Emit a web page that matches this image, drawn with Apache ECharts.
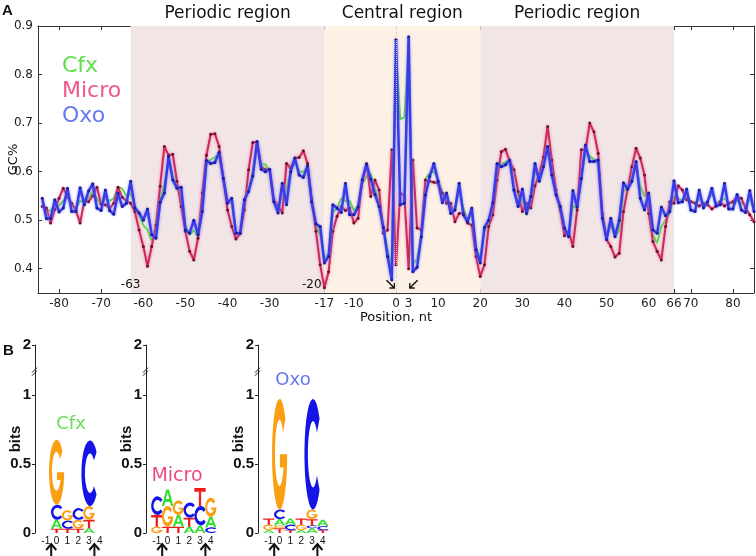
<!DOCTYPE html>
<html><head><meta charset="utf-8">
<script src="https://cdn.jsdelivr.net/npm/echarts@6/dist/echarts.min.js"></script>
<style>html,body{margin:0;padding:0;background:#fff}#c{width:756px;height:556px}</style>
</head><body><div id="c"></div>
<script>
// ---------------- Panel A data ----------------
const positionStart = -84; // positions -84 .. 85, one value per nucleotide
const cfx = [
 0.535,0.52,0.52,0.53,0.53,0.54,0.55,0.53,0.525,0.54,
 0.535,0.545,0.56,0.545,0.53,0.545,0.54,0.545,0.568,0.565,
 0.55,0.555,0.53,0.51,0.49,0.48,0.457,0.47,0.54,0.575,
 0.62,0.59,0.57,0.56,0.49,0.47,0.48,0.465,0.52,0.615,
 0.625,0.63,0.635,0.59,0.54,0.535,0.475,0.47,0.54,0.565,
 0.60,0.655,0.615,0.615,0.60,0.54,0.525,0.555,0.56,0.605,
 0.62,0.60,0.60,0.61,0.53,0.49,0.47,0.42,0.43,0.515,
 0.525,0.545,0.54,0.54,0.52,0.53,0.575,0.59,0.595,0.565,
 0.54,0.49,0.44,0.40,0.85,0.708,0.712,0.86,0.41,0.42,
 0.47,0.585,0.597,0.60,0.585,0.555,0.555,0.525,0.525,0.56,
 0.525,0.50,0.515,0.445,0.42,0.475,0.50,0.53,0.60,0.615,
 0.62,0.625,0.57,0.535,0.545,0.51,0.54,0.60,0.59,0.615,
 0.655,0.60,0.555,0.52,0.48,0.465,0.53,0.525,0.59,0.64,
 0.632,0.625,0.615,0.51,0.465,0.49,0.465,0.48,0.56,0.565,
 0.59,0.615,0.57,0.55,0.55,0.47,0.453,0.487,0.50,0.515,
 0.55,0.545,0.54,0.55,0.54,0.535,0.545,0.53,0.54,0.555,
 0.535,0.54,0.545,0.535,0.535,0.54,0.535,0.53,0.545,0.52
];
const micro = [
 0.528,0.525,0.494,0.522,0.545,0.566,0.548,0.535,0.52,0.494,
 0.54,0.538,0.55,0.568,0.533,0.532,0.524,0.535,0.568,0.547,
 0.54,0.535,0.518,0.48,0.446,0.405,0.446,0.49,0.57,0.652,
 0.634,0.636,0.58,0.528,0.477,0.436,0.418,0.463,0.556,0.634,
 0.677,0.678,0.652,0.586,0.521,0.487,0.461,0.473,0.521,0.604,
 0.66,0.661,0.61,0.604,0.604,0.542,0.53,0.515,0.617,0.607,
 0.628,0.629,0.643,0.617,0.542,0.477,0.408,0.361,0.394,0.477,
 0.508,0.528,0.52,0.525,0.494,0.504,0.583,0.617,0.549,0.583,
 0.562,0.473,0.48,0.645,0.408,0.556,0.55,0.40,0.624,0.484,
 0.48,0.583,0.58,0.578,0.576,0.556,0.535,0.535,0.497,0.514,
 0.516,0.494,0.49,0.425,0.384,0.408,0.487,0.511,0.583,0.641,
 0.646,0.621,0.604,0.559,0.518,0.535,0.525,0.571,0.595,0.63,
 0.693,0.624,0.562,0.521,0.468,0.477,0.446,0.521,0.645,0.645,
 0.70,0.682,0.638,0.514,0.46,0.446,0.424,0.432,0.518,0.564,
 0.61,0.648,0.628,0.593,0.514,0.456,0.436,0.418,0.487,0.538,
 0.535,0.571,0.562,0.542,0.538,0.535,0.529,0.535,0.532,0.523,
 0.529,0.538,0.529,0.535,0.538,0.549,0.545,0.525,0.511,0.497
];
const oxo = [
 0.545,0.503,0.504,0.542,0.517,0.525,0.566,0.518,0.518,0.567,
 0.532,0.56,0.575,0.525,0.52,0.562,0.52,0.512,0.556,0.528,
 0.535,0.58,0.525,0.515,0.50,0.523,0.47,0.463,0.537,0.556,
 0.631,0.583,0.566,0.568,0.48,0.473,0.50,0.47,0.518,0.623,
 0.617,0.619,0.64,0.586,0.535,0.545,0.473,0.473,0.542,0.559,
 0.591,0.662,0.605,0.60,0.605,0.538,0.515,0.576,0.532,0.60,
 0.628,0.593,0.588,0.612,0.538,0.492,0.487,0.412,0.425,0.532,
 0.525,0.516,0.576,0.511,0.511,0.527,0.583,0.615,0.585,0.553,
 0.528,0.485,0.425,0.377,0.872,0.532,0.535,0.878,0.394,0.403,
 0.466,0.552,0.59,0.617,0.58,0.536,0.556,0.514,0.521,0.576,
 0.511,0.497,0.525,0.439,0.412,0.485,0.50,0.536,0.617,0.61,
 0.614,0.624,0.562,0.528,0.564,0.514,0.549,0.617,0.58,0.61,
 0.652,0.593,0.552,0.528,0.484,0.466,0.561,0.527,0.586,0.655,
 0.621,0.621,0.624,0.504,0.46,0.504,0.466,0.50,0.577,0.564,
 0.58,0.621,0.545,0.521,0.556,0.48,0.473,0.527,0.509,0.518,
 0.581,0.536,0.538,0.564,0.521,0.518,0.562,0.525,0.538,0.566,
 0.529,0.532,0.576,0.523,0.523,0.553,0.521,0.516,0.561,0.518
];
const xTicks = [-80,-70,-60,-50,-40,-30,-17,-10,0,3,10,20,30,40,50,60,66,70,80];
const yTicks = [0.4,0.5,0.6,0.7,0.8,0.9];
const regionNames = ['Periodic region','Central region','Periodic region'];
const regionFrom = [-63,-17,20];
const regionTo = [-17,20,66];
const boundaryMarks = [-63,-20];
const boundaryText = ['-63','-20'];
const dyadArrows = [0,3];

// ---------------- Panel B data (sequence logos) ----------------
const logoCols = [-1,0,1,2,3,4];
const logoTicks = [-1,0,1,2,3,4];
const bitsTicks = [0,0.5,1,1.36];
const bitsTickText = ['0','0.5','1','2'];
const bitsBreak = 1.167;
const logoArrows = [-0.5,3.5];
const cfxLetters = [[],['T','A','C','G'],['T','C','G'],['T','G','C'],['A','T','G','C'],[]];
const cfxBits    = [[],[0.03,0.065,0.11,0.47],[0.03,0.06,0.075],[0.03,0.065,0.085],[0.035,0.06,0.1,0.475],[]];
const microLetters = [['G','T','C'],['T','G','A'],['T','A','G'],['A','T','C'],['A','C','T'],['C','A','G']];
const microBits    = [[0.045,0.085,0.135],[0.045,0.15,0.12],[0.045,0.085,0.105],[0.045,0.065,0.11],[0.055,0.14,0.13],[0.04,0.075,0.14]];
const oxoLetters = [['A','G','T'],['T','G','A','C','G'],['T','C','A'],['A','G','T'],['A','C','T','G','C'],['T','C','A']];
const oxoBits    = [[0.02,0.04,0.045],[0.035,0.02,0.045,0.07,0.8],[0.02,0.04,0.045],[0.02,0.04,0.045],[0.035,0.02,0.045,0.07,0.8],[0.02,0.03,0.045]];

// ---------------- styles ----------------
const FONT = 'DejaVu Sans';
const BFONT = 'Liberation Sans';
const LETTERS = ['A','C','G','T'];
const LETTER_COLORS = ['#2ee02e','#1414e6','#fa9e12','#f01c1c'];
const GLYPHS = [
  'M0,100 L38,0 L62,0 L100,100 L80,100 L71,75 L29,75 L20,100 Z M35,58 L65,58 L50,18 Z',
  'M88.3,17.9 A50,50 0 1 0 88.3,82.1 L73,69.3 A30,30 0 1 1 73,30.7 Z',
  'M88.3,17.9 A50,50 0 1 0 100,50 L52,50 L52,62 L76,62 A30,30 0 1 1 73,30.7 Z',
  'M0,0 L100,0 L100,20 L60,20 L60,100 L40,100 L40,20 L0,20 Z'
];

function pairs(vals){ return vals.map((v,i)=>[positionStart+i, v]); }
function buildLogo(letters, bits){
  const out=[];
  letters.forEach((col,i)=>{ let base=0; col.forEach((L,j)=>{ const h=bits[i][j]; out.push([logoCols[i], base, base+h, LETTERS.indexOf(L)]); base+=h; }); });
  return out;
}

const chart = echarts.init(document.getElementById('c'), null, {renderer:'canvas'});

const logoGrids = [{left:35},{left:146},{left:258}];
const logoSets = [[cfxLetters,cfxBits],[microLetters,microBits],[oxoLetters,oxoBits]];

const grids = [{left:38, right:2, top:26, bottom:263, containLabel:false, outerBoundsMode:'none'}];
logoGrids.forEach(g=>grids.push({left:g.left, width:75.6, top:345, height:188, containLabel:false, outerBoundsMode:'none'}));

const xAxes = [
  {type:'value', gridIndex:0, min:-85, max:85, position:'bottom',
   axisLine:{show:true, onZero:false, lineStyle:{color:'#333'}}, splitLine:{show:false},
   axisTick:{show:true, inside:true, length:4, customValues:xTicks, lineStyle:{color:'#333'}},
   axisLabel:{customValues:xTicks, fontFamily:FONT, fontSize:12, color:'#222', margin:5},
   name:'Position, nt', nameLocation:'middle', nameGap:18, nameMoveOverlap:false, nameTextStyle:{fontFamily:FONT, fontSize:13, color:'#111'}},
  {type:'value', gridIndex:0, min:-85, max:85, position:'top',
   axisLine:{show:true, onZero:false, lineStyle:{color:'#333'}}, splitLine:{show:false},
   axisTick:{show:true, inside:true, length:4, customValues:xTicks, lineStyle:{color:'#333'}},
   axisLabel:{show:false}}
];
const yAxes = [
  {type:'value', gridIndex:0, min:0.35, max:0.9, position:'left',
   axisLine:{show:true, onZero:false, lineStyle:{color:'#333'}}, splitLine:{show:false},
   axisTick:{show:true, inside:true, length:4, customValues:yTicks, lineStyle:{color:'#333'}},
   axisLabel:{customValues:yTicks, formatter:v=>v.toFixed(1), fontFamily:FONT, fontSize:12, color:'#222', margin:5},
   name:'GC%', nameLocation:'middle', nameGap:18, nameMoveOverlap:false, nameTextStyle:{fontFamily:FONT, fontSize:13, color:'#111'}},
  {type:'value', gridIndex:0, min:0.35, max:0.9, position:'right',
   axisLine:{show:true, onZero:false, lineStyle:{color:'#333'}}, splitLine:{show:false},
   axisTick:{show:true, inside:true, length:4, customValues:yTicks, lineStyle:{color:'#333'}},
   axisLabel:{show:false}}
];
logoGrids.forEach((g,k)=>{
  xAxes.push({type:'value', gridIndex:k+1, min:-2, max:5, axisLine:{show:false}, axisTick:{show:false}, splitLine:{show:false},
    axisLabel:{customValues:logoTicks, fontFamily:BFONT, fontSize:10, color:'#111', margin:3}});
  yAxes.push({type:'value', gridIndex:k+1, min:0, max:1.36, splitLine:{show:false},
    axisLine:{show:true, onZero:false, lineStyle:{color:'#222', width:1}},
    axisTick:{show:true, inside:false, length:3, customValues:bitsTicks, lineStyle:{color:'#222'}},
    axisLabel:{customValues:bitsTicks, formatter:v=>bitsTickText[bitsTicks.indexOf(v)], fontFamily:BFONT, fontWeight:'bold', fontSize:15, color:'#111', margin:4},
    name:'bits', nameLocation:'middle', nameGap:12, nameMoveOverlap:false, nameTextStyle:{fontFamily:BFONT, fontWeight:'bold', fontSize:15, color:'#111'}});
});

const arrowDR = 'path://M0,1.2 L1.2,0 L9,7.8 L9,4 L10.5,4 L10.5,10.5 L4,10.5 L4,9 L7.8,9 Z';
const arrowDL = 'path://M10.5,1.2 L9.3,0 L1.5,7.8 L1.5,4 L0,4 L0,10.5 L6.5,10.5 L6.5,9 L2.7,9 Z';

const series = [
  {type:'line', name:'regions', xAxisIndex:0, yAxisIndex:0, data:[], z:1, silent:true,
   markArea:{silent:true,
     label:{show:true, position:'top', distance:4, fontFamily:FONT, fontSize:17, color:'#111'},
     data: regionNames.map((n,i)=>[{name:n, xAxis:regionFrom[i], itemStyle:{color: i===1?'#fdf0e5':'#f2e5e6'}}, {xAxis:regionTo[i]}])},
   markLine:{silent:true, symbol:'none', label:{show:false}, lineStyle:{type:'dotted', color:'#c8c8c8', width:1}, data:[{xAxis:0}]},
   markPoint:{silent:true, data:[
     ...boundaryMarks.map((b,i)=>({coord:[b,0.367], value:boundaryText[i], symbol:'circle', symbolSize:1, itemStyle:{color:'rgba(0,0,0,0)'},
        label:{show:true, position:'inside', formatter:'{c}', fontFamily:FONT, fontSize:12, color:'#111'}})),
     ...dyadArrows.map((a,i)=>({coord:[a,0.359], symbol: i===0?arrowDR:arrowDL, symbolSize:[9,9], symbolOffset:[i===0?-5.5:5,-4.5],
        itemStyle:{color:'#111'}, label:{show:false}}))
   ]}
  },
  {type:'line', name:'Cfx', xAxisIndex:0, yAxisIndex:0, data:pairs(cfx), z:2, showSymbol:false, silent:true,
   lineStyle:{color:'#5fd84a', width:2}, itemStyle:{color:'#5fd84a'}},
  {type:'line', name:'Micro', xAxisIndex:0, yAxisIndex:0, data:pairs(micro), z:3, symbol:'circle', symbolSize:3, silent:true,
   lineStyle:{color:'#c92a5b', width:2, shadowColor:'rgba(240,110,160,0.9)', shadowBlur:3}, itemStyle:{color:'#6e0f2c'}},
  {type:'line', name:'Oxo', xAxisIndex:0, yAxisIndex:0, data:pairs(oxo), z:4, symbol:'circle', symbolSize:3, silent:true,
   lineStyle:{color:'#3b3be6', width:2.5, shadowColor:'rgba(110,130,255,0.9)', shadowBlur:3}, itemStyle:{color:'#1c1c9c'}}
];

logoSets.forEach((set,k)=>{
  series.push({type:'custom', name:'logo'+k, xAxisIndex:k+2, yAxisIndex:k+2, clip:false, silent:true, z:5,
    data: buildLogo(set[0], set[1]),
    renderItem:(params, api)=>{
      const col=api.value(0), y0=api.value(1), y1=api.value(2), li=api.value(3);
      const w = (y1-y0) > 0.3 ? 1.4 : 1.05;
      const p0 = api.coord([col-w/2, y1]);
      const p1 = api.coord([col+w/2, y0]);
      return {type:'path', shape:{pathData:GLYPHS[li], x:p0[0], y:p0[1], width:p1[0]-p0[0], height:Math.max(0.5,p1[1]-p0[1]), layout:'cover'},
              style:{fill:LETTER_COLORS[li]}};
    }});
  series.push({type:'custom', name:'arrows'+k, xAxisIndex:k+2, yAxisIndex:k+2, clip:false, silent:true, z:5,
    data: logoArrows.map(a=>[a,0]),
    renderItem:(params, api)=>{
      const p = api.coord([api.value(0), api.value(1)]);
      const top = p[1]+11;
      return {type:'group', children:[
        {type:'polyline', shape:{points:[[p[0]-5,top+6],[p[0],top],[p[0]+5,top+6]]}, style:{stroke:'#111', lineWidth:2, fill:null}},
        {type:'line', shape:{x1:p[0], y1:top, x2:p[0], y2:top+12}, style:{stroke:'#111', lineWidth:2}}
      ]};
    }});
  series.push({type:'custom', name:'break'+k, xAxisIndex:k+2, yAxisIndex:k+2, clip:false, silent:true, z:6,
    data: [[-2, bitsBreak]],
    renderItem:(params, api)=>{
      const p = api.coord([api.value(0), api.value(1)]);
      return {type:'group', children:[
        {type:'line', shape:{x1:p[0]-3, y1:p[1]+1, x2:p[0]+2, y2:p[1]-4}, style:{stroke:'#222', lineWidth:1}},
        {type:'line', shape:{x1:p[0]-3, y1:p[1]+4, x2:p[0]+2, y2:p[1]-1}, style:{stroke:'#222', lineWidth:1}}
      ]};
    }});
});

const option = {
  animation:false,
  backgroundColor:'#fff',
  grid: grids,
  xAxis: xAxes,
  yAxis: yAxes,
  legend:{orient:'vertical', left:52, top:49, itemWidth:0, itemHeight:25, itemGap:0, icon:'none', selectedMode:false,
    textStyle:{fontFamily:FONT, fontSize:22, lineHeight:25},
    data:[{name:'Cfx', textStyle:{color:'#5fe048'}},{name:'Micro', textStyle:{color:'#f0588a'}},{name:'Oxo', textStyle:{color:'#6a78f0'}}]},
  graphic:[
    {type:'text', left:2, top:3, style:{text:'A', font:'bold 15px '+BFONT, fill:'#111'}},
    {type:'text', left:3, top:343, style:{text:'B', font:'bold 15px '+BFONT, fill:'#111'}},
    {type:'text', x:71, y:424, style:{text:'Cfx', font:'18px '+FONT, fill:'#66dd55', textAlign:'center', textVerticalAlign:'middle'}},
    {type:'text', x:177, y:476, style:{text:'Micro', font:'19px '+FONT, fill:'#ee4d7e', textAlign:'center', textVerticalAlign:'middle'}},
    {type:'text', x:293, y:380, style:{text:'Oxo', font:'18px '+FONT, fill:'#6677ee', textAlign:'center', textVerticalAlign:'middle'}}
  ],
  series: series
};
chart.setOption(option);
</script>
</body></html>
